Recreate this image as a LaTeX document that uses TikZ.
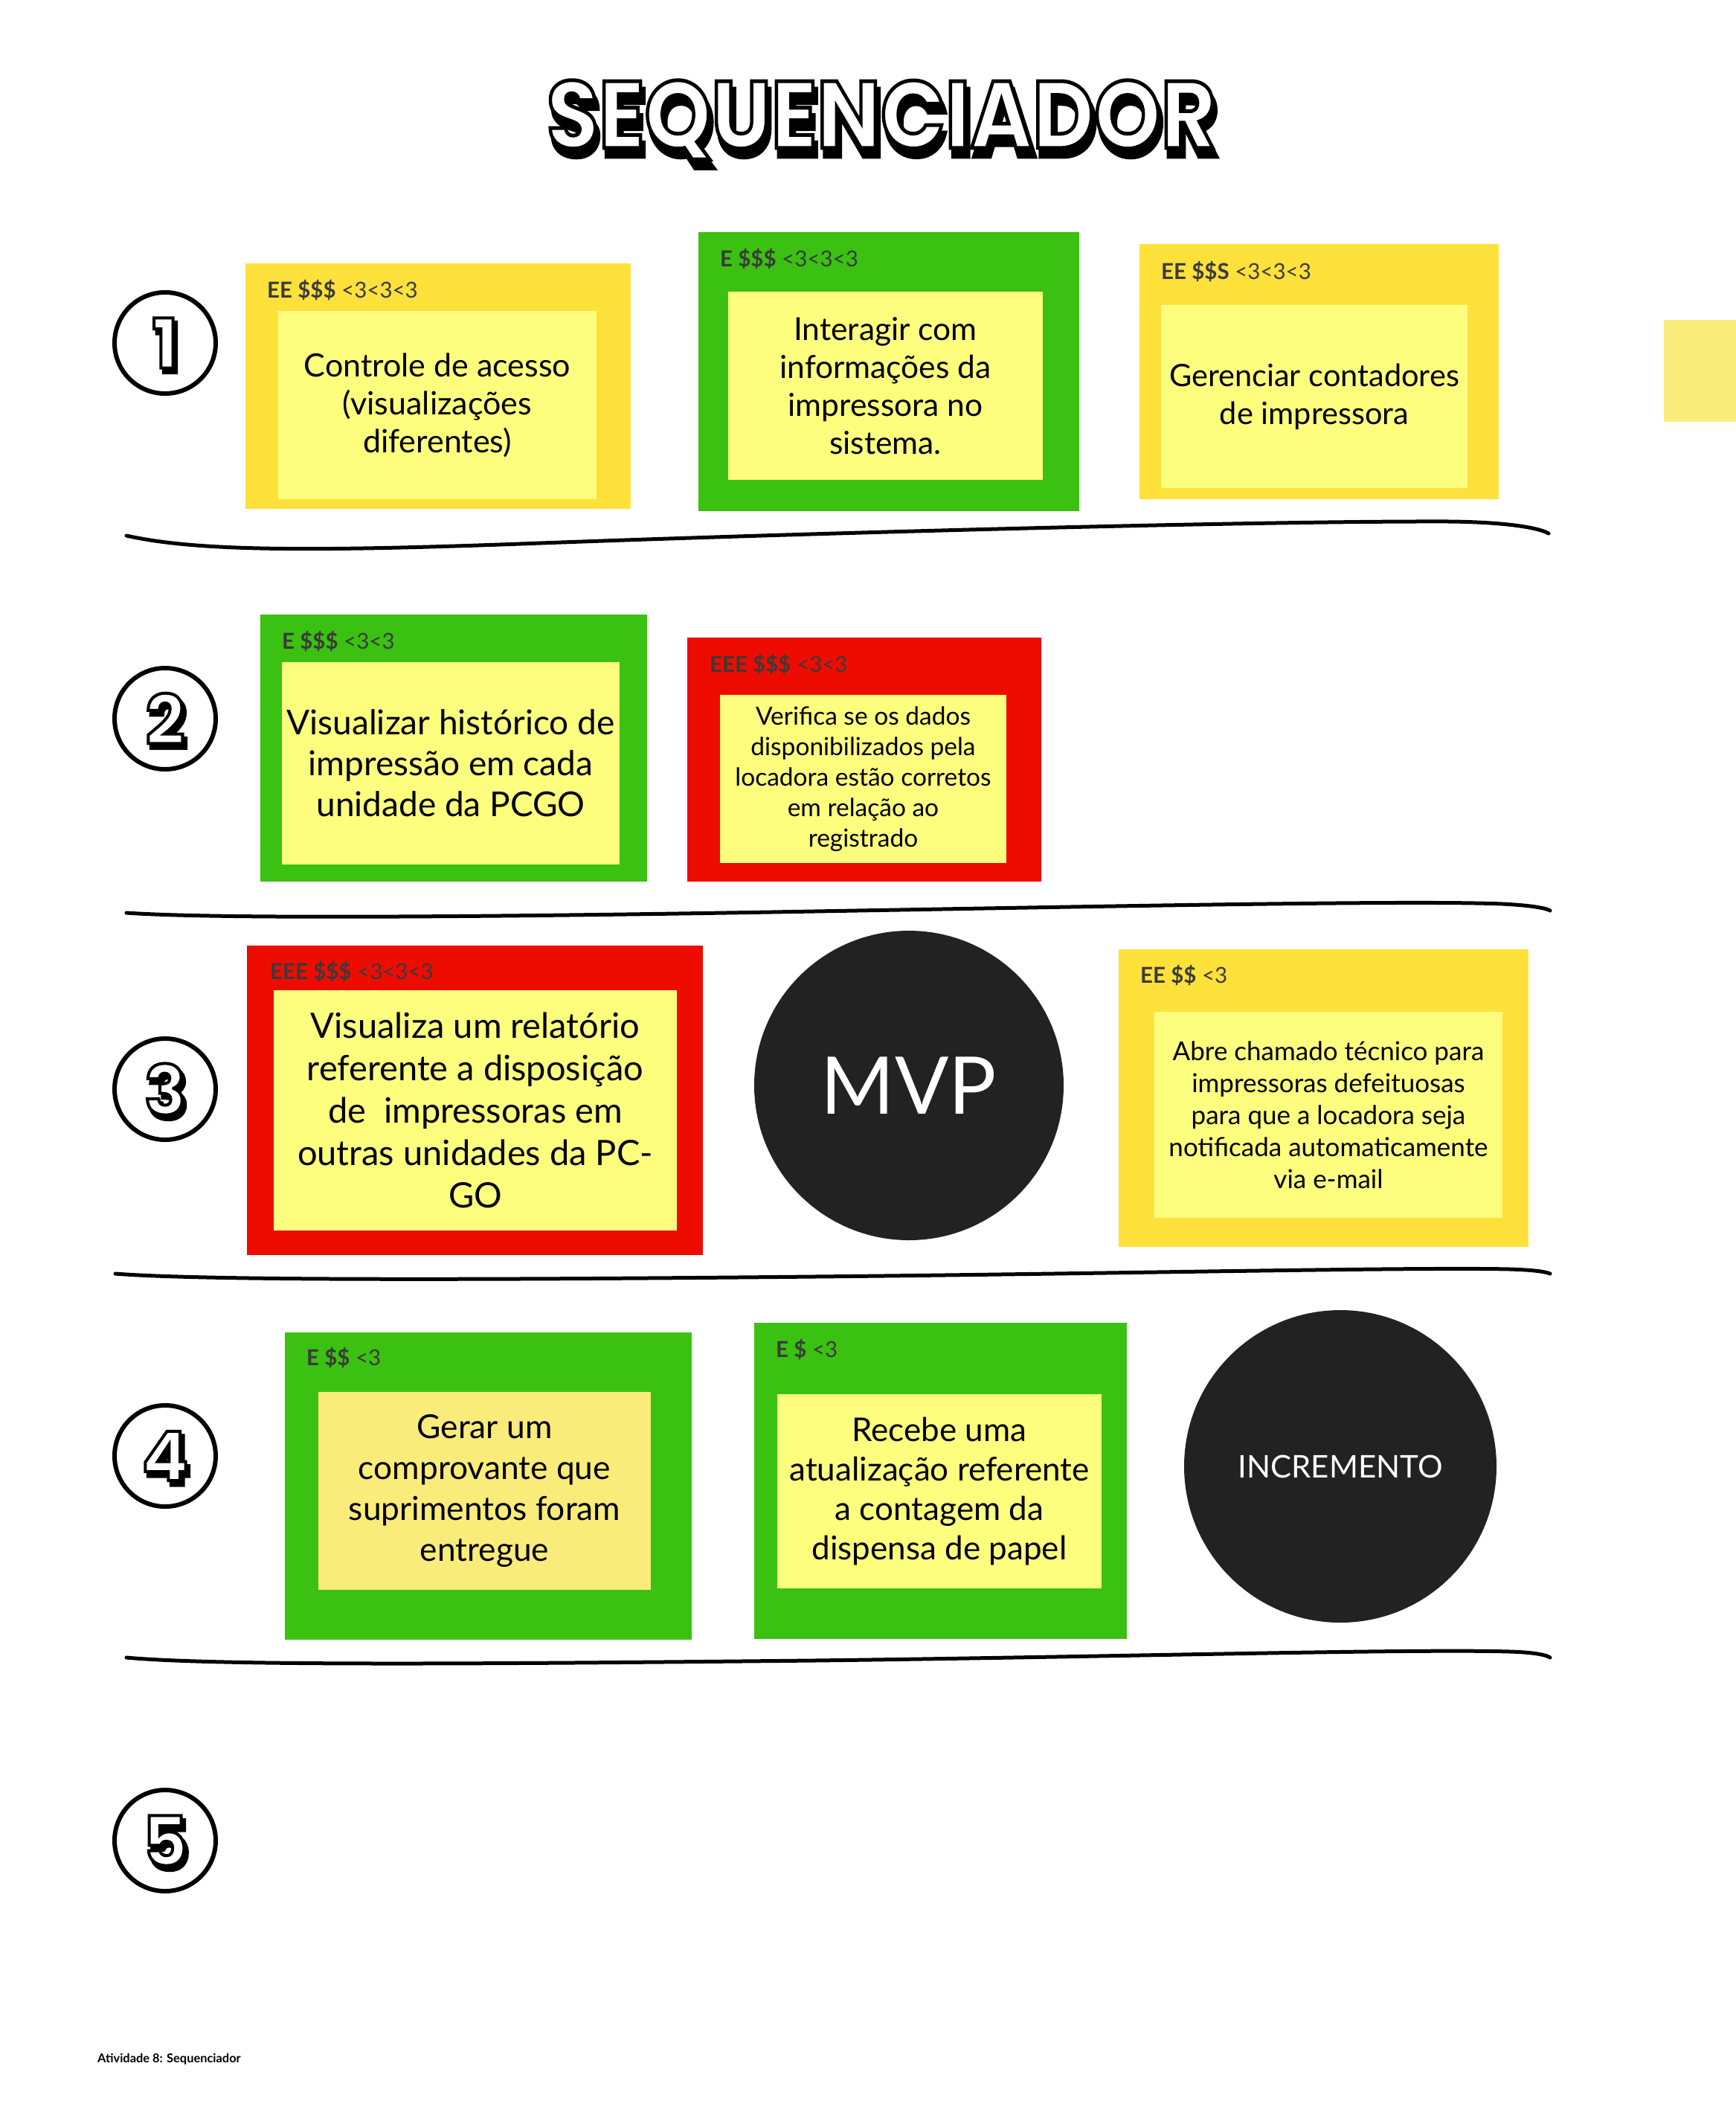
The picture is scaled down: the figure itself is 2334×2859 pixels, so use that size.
\documentclass[tikz,border=0pt]{standalone}
\usepackage{fontspec}
\setmainfont{Lato}
\newfontfamily\cartoonfont{Poppins}
\definecolor{notayel}{HTML}{FFE13C}
\definecolor{notainner}{HTML}{FDFD7E}
\definecolor{notapale}{HTML}{FAEC7A}
\definecolor{notagrn}{HTML}{3BC111}
\definecolor{notared}{HTML}{EE0C01}
\definecolor{tagc}{HTML}{3A3A3A}
\definecolor{discc}{HTML}{222222}
\newcommand\fsz[2]{\fontsize{#1}{#2}\selectfont}
% glyphs filled with the text colour and stroked in black
\newcommand\inked[2]{\special{pdf:literal direct 0 0 0 RG 2 Tr #1 w}#2\special{pdf:literal direct 0 Tr}}
\begin{document}
\begin{tikzpicture}[x=1pt,y=-1pt,
  pad/.style={fill=#1, inner sep=0pt, outer sep=0pt, anchor=north west},
  tagline/.style={anchor=west, inner sep=0pt, text=tagc, font=\fsz{29.5}{29.5}},
  memo/.style 2 args={align=center, font=\fsz{#1}{#2}},
  sep/.style={line width=5, line cap=round},
  num/.style={circle, draw, line width=6, minimum size=136, inner sep=0pt},
  digit/.style={inner sep=0pt, font=\cartoonfont\bfseries\fsz{92}{92}},
  heading/.style={inner sep=0pt, font=\cartoonfont\bfseries\fsz{128}{128}},
  disc/.style={circle, fill=discc, text=white, inner sep=0pt, minimum size=#1}]
\fill[white] (0,0) rectangle (2334,2859);
\useasboundingbox (0,0) rectangle (2334,2859);

% title
\node[heading, text=black] (titleshadow) at (1189,172) {\scalebox{0.89}[1]{\inked{7}{SEQUENCIADOR}}};
\node[heading, text=white] (title) at (1185,161) {\scalebox{0.89}[1]{\inked{5}{SEQUENCIADOR}}};

% row numbers
\foreach \k/\yy in {1/461,2/966,3/1464,4/1957,5/2474} {
  \node[num] (n\k) at (222,\yy) {};
  \node[digit, text=black] (shadow\k) at ([xshift=4, yshift=-6]n\k) {\inked{5}{\k}};
  \node[digit, text=white] (d\k) at (n\k) {\inked{4}{\k}};
}

% row 1
\node[pad=notayel, minimum width=518, minimum height=330] (acc) at (330,354) {};
\node[pad=notainner, minimum width=428, minimum height=253, memo={43}{51}] (acctxt) at (374,418) {Controle de acesso\\(visualizações\\diferentes)};
\node[tagline] (acctag) at (359,390) {\textbf{EE \$\$\$} <3<3<3};

\node[pad=notagrn, minimum width=512, minimum height=375] (inf) at (939,312) {};
\node[pad=notainner, minimum width=423, minimum height=253, memo={42.5}{51}] (inftxt) at (979,392) {Interagir com\\informações da\\impressora no\\sistema.};
\node[tagline] (inftag) at (968,348) {\textbf{E \$\$\$} <3<3<3};

\node[pad=notayel, minimum width=483, minimum height=343] (cnt) at (1532,328) {};
\node[pad=notainner, minimum width=412, minimum height=246, memo={41.5}{51}] (cnttxt) at (1561,410) {Gerenciar contadores\\de impressora};
\node[tagline] (cnttag) at (1561,365) {\textbf{EE \$\$S} <3<3<3};

\node[pad=notapale, minimum width=97, minimum height=137] (edge) at (2237,430) {};

\draw[sep] (170,720) .. controls (260,740) and (400,742) .. (700,731) .. controls (1100,716) and (1700,700) .. (1950,701) .. controls (2030,702) and (2070,710) .. (2082,717);

% row 2
\node[pad=notagrn, minimum width=520, minimum height=359] (hist) at (350,826) {};
\node[pad=notainner, minimum width=454, minimum height=272, memo={46}{55}] (histtxt) at (379,890) {Visualizar histórico de\\impressão em cada\\unidade da PCGO};
\node[tagline] (histtag) at (379,862) {\textbf{E \$\$\$} <3<3};

\node[pad=notared, minimum width=476, minimum height=328] (ver) at (924,857) {};
\node[pad=notainner, minimum width=385, minimum height=226, memo={33.5}{41}] (vertxt) at (968,934) {Verifica se os dados\\disponibilizados pela\\locadora estão corretos\\em relação ao\\registrado};
\node[tagline] (vertag) at (954,893) {\textbf{EEE \$\$\$} <3<3};

\draw[sep] (170,1227) .. controls (300,1236) and (700,1232) .. (1094,1225) .. controls (1500,1218) and (1900,1210) .. (2020,1215) .. controls (2060,1217) and (2080,1221) .. (2084,1224);

% row 3
\node[pad=notared, minimum width=613, minimum height=416] (rel) at (332,1271) {};
\node[pad=notainner, minimum width=542, minimum height=323, memo={47}{57}] (reltxt) at (368,1331) {Visualiza um relatório\\referente a disposição\\de~~impressoras em\\outras unidades da PC-\\GO};
\node[tagline] (reltag) at (363,1306) {\textbf{EEE \$\$\$} <3<3<3};

\node[disc=416, font=\fsz{107}{107}] (mvp) at (1222,1459) {MVP};

\node[pad=notayel, minimum width=551, minimum height=400] (cham) at (1504,1276) {};
\node[pad=notainner, minimum width=468, minimum height=277, memo={35}{43}] (chamtxt) at (1552,1360) {Abre chamado técnico para\\impressoras defeituosas\\para que a locadora seja\\notificada automaticamente\\via e-mail};
\node[tagline] (chamtag) at (1533,1311) {\textbf{EE \$\$} <3};

\draw[sep] (155,1712) .. controls (280,1722) and (700,1720) .. (1094,1716) .. controls (1500,1712) and (1900,1703) .. (2030,1706) .. controls (2065,1707) and (2080,1710) .. (2084,1712);

% row 4
\node[pad=notagrn, minimum width=547, minimum height=413] (sup) at (383,1791) {};
\node[pad=notapale, minimum width=447, minimum height=266, memo={44.3}{55}] (suptxt) at (428,1871) {Gerar um\\comprovante que\\suprimentos foram\\entregue};
\node[tagline] (suptag) at (412,1825) {\textbf{E \$\$} <3};

\node[pad=notagrn, minimum width=501, minimum height=425] (pap) at (1014,1778) {};
\node[pad=notainner, minimum width=436, minimum height=261, memo={44}{53}] (paptxt) at (1045,1874) {Recebe uma\\atualização referente\\a contagem da\\dispensa de papel};
\node[tagline] (paptag) at (1043,1814) {\textbf{E \$} <3};

\node[disc=420, font=\fsz{42}{42}] (inc) at (1802,1971) {INCREMENTO};

\draw[sep] (170,2228) .. controls (300,2240) and (700,2236) .. (1094,2232) .. controls (1500,2227) and (1900,2216) .. (2030,2220) .. controls (2065,2221) and (2080,2225) .. (2084,2228);

% footer
\node[anchor=west, inner sep=0pt, font=\bfseries\fsz{16.4}{16.4}] (foot) at (131,2768) {Atividade 8: Sequenciador};
\end{tikzpicture}
\end{document}
